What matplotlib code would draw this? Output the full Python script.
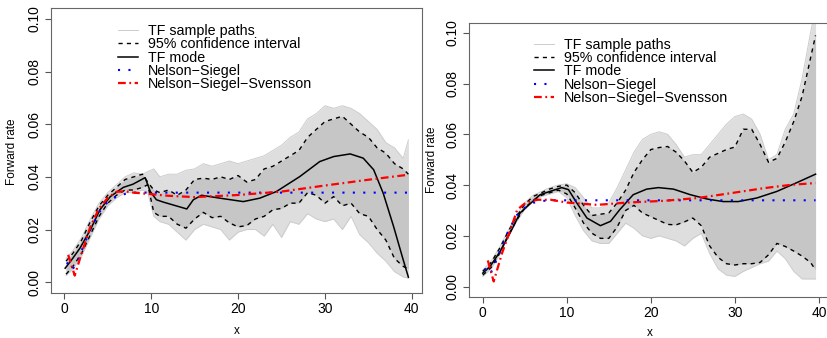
import matplotlib
matplotlib.use("Agg")
import matplotlib.pyplot as plt
import numpy as np

plt.rcParams['font.family'] = ['Liberation Sans', 'DejaVu Sans']

# ---------------- left panel data ----------------
left_grid = [0.2, 1, 2, 3, 4, 5, 6, 7, 8, 9, 9.6, 10.3, 11, 12, 13, 14, 15, 16, 17, 18, 19,
             20, 21, 22, 23, 24, 25, 26, 27, 28, 29, 30, 31, 32, 33, 34, 35, 36, 37, 38, 39, 39.6]
left_ci_hi = [0.008, 0.011, 0.016, 0.023, 0.029, 0.033, 0.036, 0.039, 0.040, 0.041, 0.038, 0.035,
              0.034, 0.035, 0.033, 0.035, 0.039, 0.0395, 0.039, 0.040, 0.039, 0.0405, 0.038, 0.039,
              0.043, 0.044, 0.046, 0.048, 0.050, 0.055, 0.058, 0.061, 0.062, 0.063, 0.060, 0.057,
              0.055, 0.051, 0.049, 0.045, 0.043, 0.041]
left_ci_lo = [0.003, 0.006, 0.011, 0.018, 0.025, 0.030, 0.033, 0.035, 0.035, 0.036, 0.037, 0.0265,
              0.025, 0.025, 0.022, 0.0205, 0.024, 0.0265, 0.0245, 0.025, 0.0225, 0.021, 0.0215, 0.024,
              0.025, 0.0275, 0.028, 0.030, 0.030, 0.034, 0.033, 0.030, 0.0325, 0.029, 0.030, 0.026,
              0.025, 0.020, 0.016, 0.009, 0.006, 0.005]
left_env_hi = [0.009, 0.012, 0.017, 0.024, 0.030, 0.034, 0.037, 0.040, 0.0415, 0.041, 0.042, 0.043,
               0.040, 0.041, 0.041, 0.0425, 0.043, 0.045, 0.044, 0.045, 0.046, 0.045, 0.046, 0.047,
               0.048, 0.050, 0.052, 0.055, 0.057, 0.062, 0.064, 0.067, 0.066, 0.067, 0.066, 0.064,
               0.061, 0.058, 0.053, 0.051, 0.047, 0.054]
left_env_lo = [0.0025, 0.005, 0.010, 0.017, 0.024, 0.029, 0.032, 0.034, 0.034, 0.035, 0.034, 0.025,
               0.023, 0.022, 0.019, 0.016, 0.020, 0.022, 0.021, 0.020, 0.016, 0.019, 0.020, 0.020,
               0.0175, 0.022, 0.017, 0.023, 0.022, 0.026, 0.024, 0.023, 0.024, 0.020, 0.025, 0.018,
               0.015, 0.011, 0.008, 0.004, 0.002, 0.0015]
left_mode_x = [0.1, 0.85, 1.8, 3.0, 4.1, 5.3, 6.8, 7.9, 9.3, 9.9, 10.6, 11.4, 14.1, 14.85, 15.8,
               17.9, 20.6, 22.5, 24.4, 27.1, 29.4, 31.0, 32.9, 34.4, 35.6, 36.7, 37.9, 39.0, 39.6]
left_mode_y = [0.0053, 0.0085, 0.0129, 0.0199, 0.0275, 0.0325, 0.036, 0.0372, 0.0397, 0.0344,
               0.0313, 0.0304, 0.0278, 0.0313, 0.033, 0.0319, 0.0306, 0.0319, 0.0344, 0.0401,
               0.0458, 0.0477, 0.0487, 0.0471, 0.0427, 0.0338, 0.0211, 0.0085, 0.0019]
left_ns_x = [0.3, 0.9, 1.4, 2, 3, 4, 5, 6, 7, 8, 9, 10, 20, 30, 39.6]
left_ns_y = [0.0075, 0.0047, 0.007, 0.012, 0.020, 0.0265, 0.0305, 0.0325, 0.0335, 0.034, 0.034,
             0.034, 0.034, 0.034, 0.034]
left_nss_x = [0.45, 1.2, 2, 3, 4, 5, 6, 7, 8, 10, 12, 15, 20, 25, 30, 35, 39.6]
left_nss_y = [0.0104, 0.0025, 0.011, 0.021, 0.028, 0.032, 0.0343, 0.0345, 0.034, 0.0334, 0.0328,
              0.0323, 0.0331, 0.0344, 0.0367, 0.0389, 0.0408]

# ---------------- right panel data ----------------
right_grid = [0, 1, 2, 3, 4, 5, 6, 7, 8, 9, 10, 11, 12, 13, 14, 15, 16, 17, 18, 19, 20, 21, 22,
              23, 24, 25, 26, 27, 28, 29, 30, 31, 32, 33, 34, 35, 36, 37, 38, 39, 39.6]
right_ci_hi = [0.006, 0.0095, 0.015, 0.0215, 0.0275, 0.0325, 0.0355, 0.037, 0.0385, 0.0395, 0.040,
               0.037, 0.032, 0.028, 0.0285, 0.029, 0.033, 0.038, 0.045, 0.050, 0.054, 0.0548, 0.0552,
               0.053, 0.0495, 0.045, 0.047, 0.051, 0.0525, 0.054, 0.055, 0.062, 0.062, 0.056, 0.049,
               0.0505, 0.057, 0.065, 0.075, 0.090, 0.099]
right_ci_lo = [0.0045, 0.0075, 0.013, 0.020, 0.026, 0.031, 0.034, 0.036, 0.037, 0.038, 0.0365,
               0.031, 0.025, 0.021, 0.019, 0.019, 0.0235, 0.030, 0.032, 0.029, 0.0275, 0.026, 0.0245,
               0.0243, 0.0255, 0.027, 0.024, 0.016, 0.0115, 0.009, 0.0085, 0.009, 0.009, 0.0095,
               0.0125, 0.017, 0.0158, 0.014, 0.012, 0.0095, 0.0066]
right_env_hi = [0.0065, 0.010, 0.0155, 0.022, 0.028, 0.033, 0.036, 0.0375, 0.039, 0.040, 0.0405,
                0.039, 0.035, 0.031, 0.031, 0.033, 0.039, 0.046, 0.053, 0.058, 0.060, 0.061, 0.060,
                0.056, 0.051, 0.052, 0.052, 0.056, 0.060, 0.064, 0.067, 0.068, 0.066, 0.060, 0.050,
                0.052, 0.062, 0.068, 0.082, 0.100, 0.110]
right_env_lo = [0.004, 0.007, 0.0125, 0.0195, 0.0255, 0.0305, 0.0335, 0.0355, 0.0365, 0.0375, 0.035,
                0.028, 0.022, 0.018, 0.017, 0.017, 0.021, 0.025, 0.023, 0.020, 0.019, 0.020, 0.019,
                0.018, 0.016, 0.019, 0.021, 0.013, 0.007, 0.0045, 0.004, 0.006, 0.0075, 0.009, 0.010,
                0.014, 0.011, 0.006, 0.003, 0.003, 0.003]
right_mode_x = [0, 0.87, 2.06, 3.25, 4.44, 5.63, 6.82, 8.0, 9.4, 10.2, 11.2, 12.4, 14.0, 15.2, 16.3,
                17.9, 19.5, 20.9, 22.7, 24.7, 26.7, 28.6, 30.4, 32.6, 35.0, 37.4, 39.6]
right_mode_y = [0.0053, 0.0079, 0.0138, 0.0211, 0.029, 0.0326, 0.0362, 0.0375, 0.039, 0.0382,
                0.0329, 0.027, 0.024, 0.0257, 0.0303, 0.0362, 0.0384, 0.039, 0.0384, 0.0362,
                0.0345, 0.0335, 0.0335, 0.0349, 0.0375, 0.041, 0.0443]
right_ns_x = [0.3, 0.85, 1.4, 2, 3, 4, 5, 6, 7, 8, 9, 10, 20, 30, 39.6]
right_ns_y = [0.007, 0.0046, 0.0085, 0.0135, 0.0215, 0.028, 0.031, 0.033, 0.0337, 0.034, 0.034,
              0.034, 0.034, 0.034, 0.034]
right_nss_x = [0.6, 1.3, 2.3, 3.3, 4.1, 5.1, 6.5, 8.1, 10, 13.6, 17.2, 21.6, 25.6, 29.5, 33.5, 36.7, 39.6]
right_nss_y = [0.0103, 0.002, 0.0132, 0.0224, 0.0303, 0.033, 0.0342, 0.0342, 0.0331, 0.0322,
               0.0331, 0.0338, 0.0349, 0.0368, 0.0388, 0.0401, 0.0408]

labels = ["TF sample paths", "95% confidence interval", "TF mode",
          "Nelson\u2212Siegel", "Nelson\u2212Siegel\u2212Svensson"]
yticks = [0.00, 0.02, 0.04, 0.06, 0.08, 0.10]
xticks = [0, 10, 20, 30, 40]

W, H = 827, 338
fig = plt.figure(figsize=(W / 100, H / 100), dpi=100)


def px_axes(l, t, r, b):
    return [l / W, 1 - b / H, (r - l) / W, (b - t) / H]


def panel(ax, grid, env_lo, env_hi, ci_lo, ci_hi, mx, my, nsx, nsy, nssx, nssy, xlim):
    ax.fill_between(grid, env_lo, env_hi, color='#dedede', lw=0)
    ax.fill_between(grid, ci_lo, ci_hi, color='#c6c6c6', lw=0)
    g, = ax.plot(grid, env_hi, color='#cccccc', lw=0.7)
    ax.plot(grid, env_lo, color='#cccccc', lw=0.7)
    c, = ax.plot(grid, ci_hi, color='black', lw=1.0, dashes=(3, 3))
    ax.plot(grid, ci_lo, color='black', lw=1.0, dashes=(3, 3))
    m, = ax.plot(mx, my, color='black', lw=1.1)
    n, = ax.plot(nsx, nsy, color='#0000ff', lw=1.5, dashes=(1, 4))
    s, = ax.plot(nssx, nssy, color='#ff0000', lw=1.6, dashes=(3.5, 1.6, 0.8, 1.6))
    ax.set_xlim(*xlim)
    ax.set_ylim(-0.004, 0.104)
    ax.set_xticks(xticks)
    ax.set_xticklabels([str(t) for t in xticks])
    ax.set_yticks(yticks)
    ax.set_yticklabels(["%.2f" % t for t in yticks])
    for sp in ax.spines.values():
        sp.set_color('#666666')
        sp.set_linewidth(0.8)
    ax.tick_params(colors='#555555', labelcolor='black', length=4, width=0.8,
                   labelsize=10)
    ax.tick_params(axis='y', labelrotation=90, pad=3)
    ax.tick_params(axis='x', pad=3)
    for lab in ax.get_yticklabels():
        lab.set_va('center')
    return [g, c, m, n, s]


def add_legend(ax, handles):
    ax.legend(handles, labels, loc='upper left', bbox_to_anchor=(0.18, 0.945), frameon=False,
              fontsize=10.3, handlelength=1.4, handletextpad=0.68, labelspacing=-0.05,
              borderpad=0, borderaxespad=0)


ax1 = fig.add_axes(px_axes(51, 8.3, 422.3, 292.7))
h = panel(ax1, left_grid, left_env_lo, left_env_hi, left_ci_lo, left_ci_hi,
          left_mode_x, left_mode_y, left_ns_x, left_ns_y, left_nss_x, left_nss_y, (-1.53, 41.2))
add_legend(ax1, h)

ax2 = fig.add_axes(px_axes(469.3, 22.7, 829, 296.7))
h = panel(ax2, right_grid, right_env_lo, right_env_hi, right_ci_lo, right_ci_hi,
          right_mode_x, right_mode_y, right_ns_x, right_ns_y, right_nss_x, right_nss_y, (-1.6, 41.2))
add_legend(ax2, h)

fig.text(11.7 / W, 1 - 151.7 / H, "Forward rate", rotation=90, ha='center', va='center', fontsize=8.5)
fig.text(431.7 / W, 1 - 160 / H, "Forward rate", rotation=90, ha='center', va='center', fontsize=8.5)
fig.text(236.7 / W, 1 - 334.3 / H, "x", ha='center', va='baseline', fontsize=8.5)
fig.text(649.3 / W, 1 - 336 / H, "x", ha='center', va='baseline', fontsize=8.5)

fig.savefig("out.png", dpi=100)
